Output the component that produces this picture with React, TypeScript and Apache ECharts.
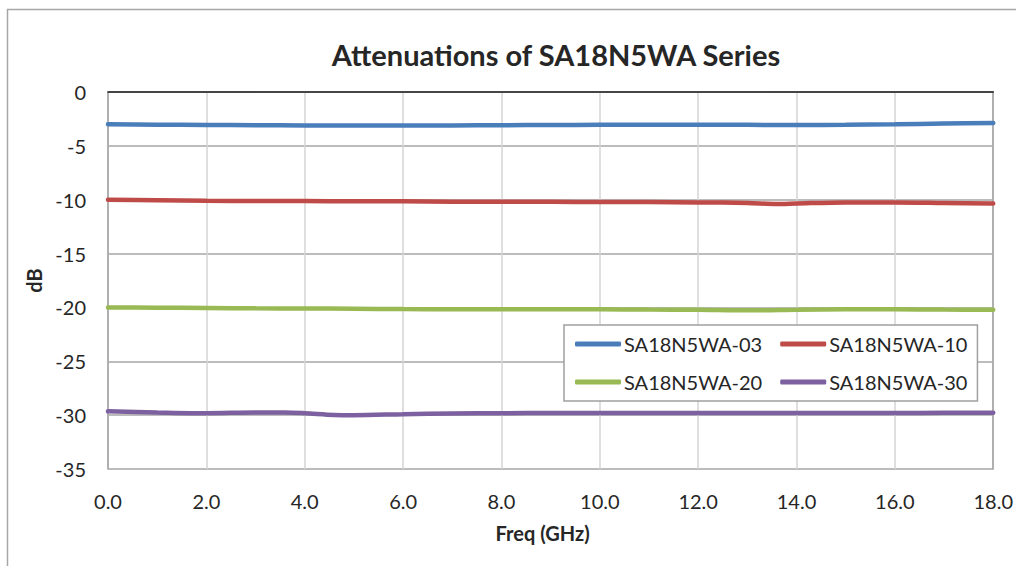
import React, { useEffect, useRef } from "react";
import * as echarts from "echarts";

const titleText = "Attenuations of SA18N5WA Series";
const xName = "Freq (GHz)";
const yName = "dB";
const seriesNames = ["SA18N5WA-03", "SA18N5WA-10", "SA18N5WA-20", "SA18N5WA-30"];
const seriesColors = ["#4a7ebb", "#be4b48", "#98b954", "#7d60a0"];

const sa03 = [
  [0, -3.0], [1, -3.03], [2, -3.06], [3, -3.08], [4, -3.1], [5, -3.1], [6, -3.12],
  [7, -3.1], [8, -3.08], [9, -3.06], [10, -3.05], [11, -3.05], [12, -3.05], [13, -3.05],
  [14, -3.06], [15, -3.05], [16, -3.0], [17, -2.93], [18, -2.87],
];
const sa10 = [
  [0, -10.0], [1, -10.05], [2, -10.1], [3, -10.12], [4, -10.12], [5, -10.15], [6, -10.15],
  [7, -10.18], [8, -10.2], [9, -10.2], [10, -10.22], [11, -10.22], [12, -10.25], [13, -10.3],
  [13.6, -10.4], [14, -10.35], [15, -10.25], [16, -10.25], [17, -10.3], [18, -10.35],
];
const sa20 = [
  [0, -20.0], [1, -20.02], [2, -20.05], [3, -20.08], [4, -20.1], [5, -20.12], [6, -20.15],
  [7, -20.17], [8, -20.18], [9, -20.18], [10, -20.18], [11, -20.2], [12, -20.22], [13, -20.27],
  [14, -20.22], [15, -20.18], [16, -20.18], [17, -20.2], [18, -20.22],
];
const sa30 = [
  [0, -29.65], [1, -29.75], [2, -29.82], [3, -29.75], [3.6, -29.75], [4, -29.82], [4.6, -29.98],
  [5, -30.0], [6, -29.92], [7, -29.85], [8, -29.82], [9, -29.8], [10, -29.8], [11, -29.8],
  [12, -29.8], [13, -29.8], [14, -29.8], [15, -29.8], [16, -29.8], [17, -29.78], [18, -29.78],
];
const seriesData = [sa03, sa10, sa20, sa30];

const xMin = 0, xMax = 18, xStep = 2;
const yMin = -35, yMax = 0, yStep = 5;

const FONT = "Lato";

export default function App() {
  const ref = useRef<HTMLDivElement>(null);
  useEffect(() => {
    if (!ref.current) return;
    const chart = echarts.init(ref.current, null, { renderer: "svg" });
    chart.setOption({
      animation: false,
      backgroundColor: "#ffffff",
      title: {
        text: titleText,
        left: 551,
        textAlign: "center",
        top: 35,
        textStyle: { fontFamily: FONT, fontSize: 29, fontWeight: "bold", color: "#262626" },
      },
      graphic: [
        {
          type: "rect",
          shape: { x: 7.5, y: 9.5, width: 1100, height: 700 },
          style: { fill: "none", stroke: "#a6a6a6", lineWidth: 1.5 },
          silent: true,
          z: -10,
        },
      ],
      legend: {
        data: seriesNames,
        left: 564,
        top: 325,
        width: 400,
        orient: "horizontal",
        icon: "roundRect",
        itemWidth: 46,
        itemHeight: 5,
        itemGap: 18,
        padding: [9, 10, 9, 11],
        backgroundColor: "#ffffff",
        borderColor: "#a0a0a0",
        borderWidth: 1.5,
        borderRadius: 0,
        textStyle: { fontFamily: FONT, fontSize: 20, color: "#262626", padding: [0, 0, 0, -2] },
      },
      grid: { left: 108, top: 92, right: 22, bottom: 97, containLabel: false },
      xAxis: [
        {
          type: "value",
          min: xMin,
          max: xMax,
          interval: xStep,
          name: xName,
          nameLocation: "middle",
          nameGap: 54,
          nameTextStyle: {
            fontFamily: FONT,
            fontSize: 20,
            fontWeight: "bold",
            color: "#262626",
            padding: [0, 16, 0, 0],
          },
          axisLine: { show: true, lineStyle: { color: "#a0a0a0", width: 1.5 } },
          axisTick: { show: false },
          axisLabel: {
            margin: 22,
            fontFamily: FONT,
            fontSize: 20,
            color: "#262626",
            formatter: (v: number) => v.toFixed(1),
          },
          splitLine: { show: true, lineStyle: { color: "#d4d4d4", width: 1.5 } },
        },
        {
          type: "value",
          position: "top",
          min: xMin,
          max: xMax,
          interval: xStep,
          axisLine: { show: true, onZero: false, lineStyle: { color: "#262626", width: 1.5 } },
          axisTick: { show: false },
          axisLabel: { show: false },
          splitLine: { show: false },
        },
      ],
      yAxis: [
        {
          type: "value",
          min: yMin,
          max: yMax,
          interval: yStep,
          name: yName,
          nameLocation: "middle",
          nameGap: 64,
          nameRotate: 90,
          nameTextStyle: { fontFamily: FONT, fontSize: 20, fontWeight: "bold", color: "#262626" },
          axisLine: { show: true, onZero: false, lineStyle: { color: "#a0a0a0", width: 1.5 } },
          axisTick: { show: false },
          axisLabel: { margin: 22, fontFamily: FONT, fontSize: 20, color: "#262626" },
          splitLine: { show: true, lineStyle: { color: "#a6a6a6", width: 1.5 } },
        },
        {
          type: "value",
          position: "right",
          min: yMin,
          max: yMax,
          interval: yStep,
          axisLine: { show: true, onZero: false, lineStyle: { color: "#a0a0a0", width: 1.5 } },
          axisTick: { show: false },
          axisLabel: { show: false },
          splitLine: { show: false },
        },
      ],
      series: seriesNames.map((name, i) => ({
        name,
        type: "line",
        xAxisIndex: 0,
        yAxisIndex: 0,
        data: seriesData[i],
        smooth: 0.3,
        symbol: "none",
        lineStyle: { color: seriesColors[i], width: 4.5, cap: "round" },
        itemStyle: { color: seriesColors[i] },
        z: 3,
      })),
    });
    return () => chart.dispose();
  }, []);
  return (
    <div
      ref={ref}
      style={{ position: "absolute", left: 0, top: 0, width: 1016, height: 566 }}
    />
  );
}
